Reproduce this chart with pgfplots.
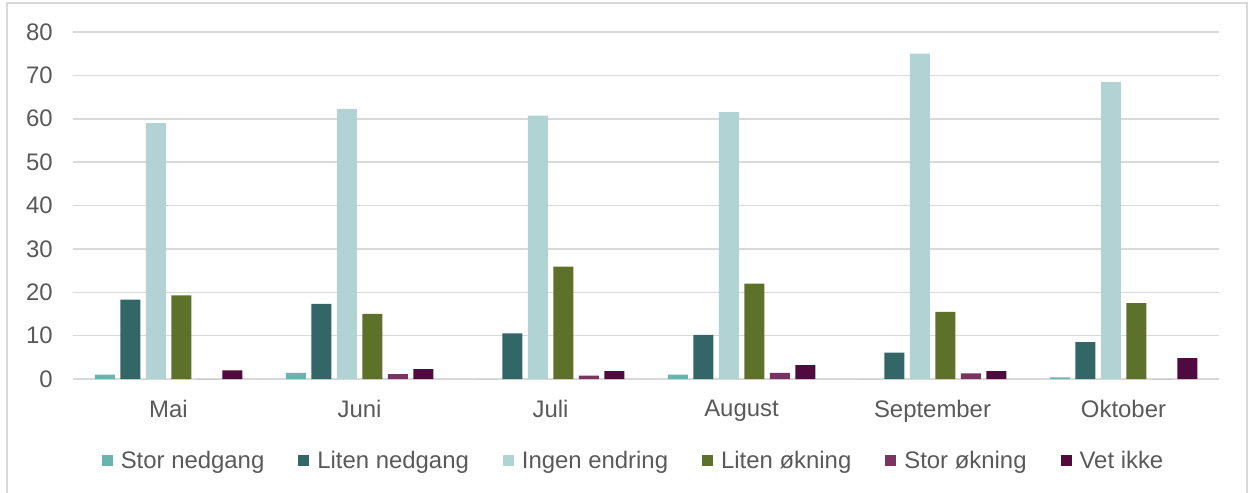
\documentclass[border=0pt]{standalone}
\usepackage{fontspec}
\setmainfont{Liberation Sans}
\usepackage{pgfplots}
\usepackage{pgfplotstable}
\pgfplotsset{compat=1.18}
\definecolor{txt}{HTML}{595959}
\definecolor{gridc}{HTML}{D9D9D9}
\definecolor{cA}{HTML}{6BB3B3}
\definecolor{cB}{HTML}{336666}
\definecolor{cC}{HTML}{B1D3D4}
\definecolor{cD}{HTML}{5E712B}
\definecolor{cE}{HTML}{7B3361}
\definecolor{cF}{HTML}{500A40}
\pgfplotstableread{
x SN LN IE LO SO VI
0 1.0 18.3 59.0 19.3 0 2.0
1 1.4 17.3 62.3 15.0 1.1 2.3
2 0 10.5 60.7 25.9 0.8 1.8
3 1.0 10.2 61.5 22.0 1.4 3.2
4 0 6.1 75.0 15.5 1.3 1.8
5 0.4 8.5 68.5 17.5 0 4.8
}\data
\begin{document}
\begin{tikzpicture}[x=1bp,y=1bp]
\path[use as bounding box] (0,0) rectangle (624,246);
\draw[gridc, line width=0.75bp] (3.5,-2) rectangle (623.5,244.5);
\begin{axis}[
  at={(36.5bp,56.5bp)}, anchor=south west,
  scale only axis, width=573bp, height=173.5bp,
  ymin=0, ymax=80, ytick={0,10,...,80},
  xmin=-0.5, xmax=5.5, xtick={0,...,5},
  xticklabels={Mai,Juni,Juli,August,September,Oktober},
  ybar=2.75bp, bar width=10bp,
  axis x line=bottom, axis y line=left,
  y axis line style={draw=none},
  x axis line style={gridc, line width=1bp, -},
  major tick length=0pt,
  ymajorgrids, grid style={gridc, line width=0.75bp},
  tick label style={text=txt, font=\fontsize{12}{14}\selectfont},
  yticklabel style={inner sep=0pt, anchor=east, xshift=-10bp},
  xticklabel style={inner sep=0pt, anchor=north, yshift=-10.5bp},
  /pgf/number format/assume math mode=true,
  legend columns=6,
  legend style={at={(0.49,-0.236)}, anchor=center, draw=none, fill=none,
    font=\fontsize{12}{14}\selectfont, text=txt,
    /tikz/every even column/.append style={column sep=15bp}},
  legend image code/.code={\fill[#1,draw=none] (0bp,-2.75bp) rectangle (5.5bp,2.75bp); \path (7.5bp,0bp);},
  every axis plot/.append style={draw=none},
]
\addplot[fill=cA] table[x=x,y=SN]{\data};
\addplot[fill=cB] table[x=x,y=LN]{\data};
\addplot[fill=cC] table[x=x,y=IE]{\data};
\addplot[fill=cD] table[x=x,y=LO]{\data};
\addplot[fill=cE] table[x=x,y=SO]{\data};
\addplot[fill=cF] table[x=x,y=VI]{\data};
\legend{Stor nedgang,Liten nedgang,Ingen endring,Liten økning,Stor økning,Vet ikke}
\end{axis}
\end{tikzpicture}
\end{document}
